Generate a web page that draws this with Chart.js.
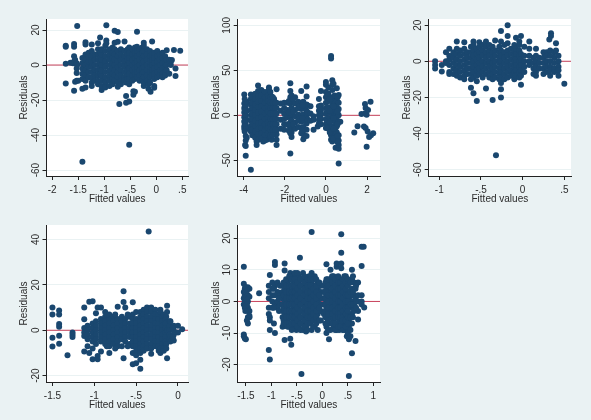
<!DOCTYPE html>
<html><head><meta charset="utf-8">
<script src="https://cdn.jsdelivr.net/npm/chart.js@4"></script>
<style>html,body{margin:0;padding:0;background:#eaf2f3;width:591px;height:420px;overflow:hidden}canvas{position:absolute;filter:blur(.35px)}</style>
</head><body>
<script>
// Each row: fitted value, then the residuals read at that fitted value
const cols1=[[-1.74,10.5,11,.8,-10.5],[-1.65,1.3],[-1.6,1],[-1.58,12,10.5,5,2,-14.7],[-1.56,-9.5,3],[-1.53,-4.5,-2,-9,1],[-1.52,22.3,0],[-1.5,-9],[-1.42,-55.3,-8,-5,-2,1,4,-13.5],[-1.36,13,11.7,6,3,0,-3,-6,-9,-12.8],[-1.3,7,-7,-4,-1,2,5],[-1.24,11.8,8,5,2,-1,-4,-7,-10,-12],[-1.18,6,3,0,-3,-6,-9],[-1.12,12.5,9,6,3,0,-3,-6,-9,-11],[-1.08,15.8,7,4,1,-2,-5],[-1.05,-14.3,-12,-9,-6,-3,0,3,6,9],[-.98,11,8,5,2,-1,-4,-7,-10,-12.8],[-.96,22.7,14,12.5],[-.9,9,6,3,0,-3,-6,-9,-12],[-.84,10,7,4,1,-2,-5,-8,-11],[-.8,19.6,12.8,9,6,3,0,-3,-6,-9],[-.74,18.9,13.3,8,5,2,-1,-4,-7,-10,-12.4],[-.71,-22.3],[-.68,9,6,3,0,-3,-6,-9,-11],[-.61,13.5,8,5,2,-1,-4,-7,-9],[-.58,-21.5,-17.7,-10],[-.55,9,6,3,0,-3,-6,-8],[-.52,-45.5,-20.8,10,7,4,1,-2,-5,-8,-11],[-.46,9,6,3,0,-3,-6,-9],[-.44,-17,-15],[-.41,-15.2,10,7,4,1,-2,-5,-8],[-.37,19,10.5,8,5,2,-1,-4,-7],[-.32,9,6,3,0,-3,-6,-9],[-.27,10,7,4,1,-2,-5,-8],[-.24,12.8,11,-12,8,5,2,-1,-4,-7,-10],[-.18,9,6,3,0,-3,-6,-9],[-.15,-13.5,-11],[-.12,8,5,2,-1,-4,-7,-10],[-.11,-15.3],[-.08,13.5,6,3,0,-3,-6],[-.04,-12,-13,7,4,1,-2,-5,-8],[.02,8,5,2,-1,-4,-7],[.07,6,3,0,-3,-6],[.12,7,4,1,-2,-5,-7],[.17,5,2,-1,-4,-6],[.2,8.5,3,0,-3],[.25,3,-5],[.28,0,2],[.3,2.9],[.34,8.6],[.37,-2,-6.3],[.46,8.2]];
const cols2=[[-3.97,23,13,8,3,-2,-7,-12,-15],[-3.93,-33],[-3.9,-45,-34,-28,-23,10,0,-10],[-3.85,15,5,-5,-15,-25],[-3.65,23,18,12,6,0,-6,-12,-18,-60.5],[-3.5,-22,15,9,3,-3,-9,-15],[-3.37,-33,-29,20,14,8,2,-4,-10,-16,-22],[-3.3,33,27],[-3.22,22,16,10,4,-2,-8,-14,-20,-26],[-3.05,-29,25,19,13,7,1,-5,-11,-17,-23],[-2.88,22,16,10,4,-2,-8,-14,-20,-27],[-2.77,31,29,24,18,12,6,0,-6,-12,-18,-24],[-2.64,-27,21,15,9,3,-3,-9,-15,-21],[-2.52,18,12,6,0,-6,-12,-18],[-2.4,-33,-27,-21,29,14,8,2,-4,-10,-16],[-2.2,13,5,-5,-15],[-2.03,-16,14,8,2,-4,-10],[-1.88,14,6,-2,-10],[-1.73,-42.5,35.5,27,20,13,6,-1,-8,-15,-20],[-1.67,-24,-19,22,15,8,1,-6,-13],[-1.5,20,13,6,-1,-8,-15],[-1.35,15,8,1,-6,-13],[-1.2,27,14,7,0,-7,-14,-20],[-1.1,-26.5,-21,15,8,1,-6,-13],[-.94,21,32,12,5,-2,-9,-16,-23],[-.89,11,3,-5],[-.75,10,2,-6],[-.6,-16,-5,-1],[-.4,-12.5],[-.34,18,10,5,0,-5,-9],[-.24,27,11,6,1,-4,-10],[0,37,34,26,20,14,8,2,-4,-10,-14],[.12,31,24,16,9,3,-3,-9,-15],[.25,66,63,-16,-22,-27],[.31,39,34,28,20,13,6,0,-6,-12,-18,-24,-29],[.42,22,15,8,1,-6,-13,-20,-27],[.47,-36,14,7,0,-7,-14,-20],[.53,30,16,9,2,-5,-12,-19,-26],[.62,22.5,14,7,0,-7,-53.5,-37,-33,-28,-22],[.7,-7],[1.38,-19],[1.54,-12],[1.73,1.5],[1.85,-12.5],[1.9,12.5,2],[1.93,8,-14],[1.98,.5,-35],[2.03,-18],[2.05,6],[2.1,-24],[2.17,15],[2.19,-22],[2.3,-20]];
const more2=[[-3.95,18,-6,6,-18],[-3.58,20,14,8,2,-4,-10,-16,-22],[-3.44,24,18,12,6,0,-6,-12,-18,-25],[-3.3,21,15,9,3,-3,-9,-15,-21,-27],[-3.14,28,22,16,10,4,-2,-8,-14,-20,-26],[-2.97,26,20,14,8,2,-4,-10,-16,-22,-28],[-2.82,22,16,10,4,-2,-8,-14,-20],[-2.7,26,20,14,8,2,-4,-10,-16,-22],[-2.58,20,14,8,2,-4,-10,-16,-22],[-2.46,14,8,2,-4,-10,-16],[-1.8,16,3,-11,-17],[-1.6,18,4,-10],[-1.28,10,-4],[-1.15,11,-3,-17],[-.28,7,-3],[.06,22,5,-7],[.19,18,5,-7,-19],[.37,35,10,-3,-15,-26],[.57,20,4,-10,-23,-30]];
const cols3=[[-1.05,0,-2,-4],[-.97,-5.7,-2],[-.92,5,0,-1],[-.88,7,3,1,-2,-6,-7],[-.83,2,5,-1,-4,-7],[-.79,11,7,4,1,-2,-5,-8],[-.75,6,3,0,-3,-6,-9],[-.7,10.5,7,4,1,-2,-5,-8,-10],[-.66,5,2,-1,-4,-7],[-.62,8,5,2,-1,-4,-7,-14.6,-10],[-.59,11,9,6,3,0,-3,-6,-9,-17.7],[-.55,7,4,1,-2,-5,-8,-22,-11],[-.52,10.5,8,5,2,-1,-4,-7],[-.48,9,6,3,0,-3,-6,-9],[-.44,11,8,5,2,-1,-4,-7,-15],[-.4,9,6,3,0,-3,-6,-9],[-.36,8,5,2,-1,-4,-7,-10,-21.5],[-.33,11.5,6,3,0,-3,-6,-9],[-.32,-52],[-.28,8,5,2,-1,-4,-7,-10],[-.26,16.8,11,6,3,0,-3,-6,-9,-12,-15.5,-20],[-.22,9,5,2,-1,-4,-7,-10],[-.18,20,14,10,6,3,0,-3,-6,-9],[-.14,7,4,1,-2,-5,-8],[-.1,9,6,3,0,-3,-6,-10],[-.08,13,7,4,1,-2,-5,-8],[-.04,11,9,6,3,0,-3,-6,-9],[-.02,14,-13,4,1,-2,-5,-8],[.02,8,3,0,-3,-6],[.08,11,7,3,0,-2],[.13,2,-1,-4,-7],[.16,7,3,0,-3,-6,-8],[.2,2,-1,-4],[.25,5,2,-1,-4,-7],[.29,5,3,0,-3,-6],[.33,6,3,0,-3,-8,-5],[.34,15.5,14],[.32,12],[.38,5,2,-1,-4,-6],[.4,10,6],[.43,3,0,-3,-5,-8],[.5,-12.5]];
const cols4=[[-1.5,10,7,-3.3,-7.2],[-1.42,8.7,7,2.8,1.6,-2.4,-5.9],[-1.32,-11],[-1.26,-1,-2,-3],[-1.12,10,4.9,1,-1,-2.5,-9.4],[-1.08,2,0,-2,-4,-7],[-1.06,12.6,-10],[-1.02,12.8,3,1,-1,-3,-5,-8,-12.8],[-.98,7.5,4,2,0,-2,-4,-6],[-.96,10,-11.3,-12.8],[-.92,10,5,3,1,-1,-3,-5,-9.4],[-.87,8,6,4,2,0,-2,-4,-6],[-.82,7,5,3,1,-1,-3,-5,-7,-10],[-.77,6,4,2,0,-2,-4,-6],[-.72,10.4,5,3,1,-1,-3,-5,-7],[-.67,6,4,2,0,-2,-4,-7],[-.65,17.2,12.5,-12.3],[-.63,10,5,3,1,-1,-3,-5],[-.58,6,3,1,-1,-3,-6],[-.54,12.4,7,5,3,1,-1,-3,-5,-7,-10,-15],[-.5,8,5,3,1,-1,-3,-5,-7,-9,-11,-14.5],[-.45,8,6,4,2,0,-2,-4,-6,-8,-10,-13,-17],[-.41,9,7,5,3,1,-1,-3,-5,-7,-9],[-.37,10,8,6,4,2,0,-2,-4,-6,-8],[-.35,43.5],[-.32,10,8,6,4,2,0,-2,-4,-6,-8,-10.4],[-.27,9,7,5,3,1,-1,-3,-5,-7],[-.23,7,5,3,1,-1,-3,-5,-7,-9],[-.19,6,4,2,0,-2,-4,-6],[-.15,5,3,1,-1,-3,-5,-7],[-.13,8,10.8,-12.3,0],[-.1,4,2,0,-2,-4],[-.05,2,0,-2,-4.5],[0,2,-1],[.05,.5]];
const more4=[[-.21,9,8,-8,-10],[-.17,7,-8,-9],[-.14,6,-6,-8],[-.09,4,-3,-5],[-.06,1,-3],[-.85,7,-7],[-.75,7,-8],[-.6,7,-7]];
const cols5=[[-1.54,11,5.6,3,1,-1,-11,-10.5],[-1.52,-11.7,4,2,0,-2],[-1.5,3,1,-12],[-1.46,4.5,2,0,-2,-3,-7,-5],[-1.43,4,1.5,-3,-5,-4.5],[-1.24,2.6],[-1.05,-15.4,5,3,1,-2,-4],[-1.03,8.4,-18.4,-9,-5,-6],[-.98,6,4,2,0,-2],[-.93,12.5,11.5,5,2,-1,-10],[-.88,6,3,0,-2],[-.83,5,2,-1],[-.78,5,3,1,-1,-3,-5,-8],[-.74,12,9.8,4,2,0,-2,-4,-6,-7.8,-12.2],[-.68,6,4,2,0,-2,-4,-6,-8],[-.63,9,7,5,3,1,-1,-3,-5,-7,-11.8],[-.61,-13.7],[-.57,8,6,4,2,0,-2,-4,-6,-8],[-.51,8.5,7,5,3,1,-1,-3,-5,-7,-9],[-.46,8,6,4,2,0,-2,-4,-6,-8],[-.44,13.8],[-.41,-23],[-.38,9,7,5,3,1,-1,-3,-5,-7,-9],[-.32,6,4,2,0,-2,-4,-6,-8,-9.5],[-.26,8,5,3,1,-1,-3,-5,-7],[-.21,22,9,6,4,2,0,-2,-4,-6,-9],[-.15,8,5,3,1,-1,-3,-5,-8],[-.09,6,4,2,0,-2,-4,-6,-9],[-.03,5,3,1,-1,-3,-6],[.03,5,3,1,-1,-4],[.08,11.8,7,4,2,0,-2,-4,-8,-10],[.13,6,3,1,-1,-3,-5,-7,-12],[.16,10,7,5,3,1,-1,-3,-5,-9],[.22,8,6,4,2,0,-2,-4,-6,-8],[.28,7,5,3,1,-1,-3,-5,-7,-9,11,12],[.33,7,5,3,1,-1,-3,-6,-9],[.37,21.3,15.4,12,10.5,6,4,2,0,-2,-4,-7],[.43,8,5,3,1,-1,-3,-5,-8,-9],[.48,7,5,3,1,-1,-3,-5,-7,-9,-11],[.52,-23.6,6,3,1,-1,-4,-6,-8,-12],[.58,10,7,4,2,0,-2,-4,-7,-16.4],[.62,6,2,-1,-3],[.65,-12.5,4,1],[.7,2,0,-3,-5.7,6],[.77,17.3,11.2,2,0,-1],[.81,17.3],[.82,-1.9]];
const more5=[[-1.51,4.6,-.5,-1.5,-3],[-1.48,3.5,.5,-1,-6],[-.95,4,-2,-7],[-.85,1,-3],[-.76,6,2,-2,-6,-7],[-.71,7,5,3,1,-1,-3,-5,-7],[-.65,8,5,3,1,-1,-3,-5,-7,-8],[-.6,7,5,3,1,-1,-3,-5,-7,-9],[-.54,9,7,5,3,1,-1,-3,-5,-7],[-.49,9,6,4,2,0,-2,-4,-6,-8],[-.43,7,5,3,1,-1,-3,-5,-7,-9],[-.35,8,6,4,2,0,-2,-4,-6,-8],[-.29,7,5,3,1,-1,-3,-5,-7,-9],[-.23,8,7,5,3,1,-1,-3,-5,-7],[-.18,7,4,2,0,-2,-4,-6,-8],[-.12,7,5,3,1,-1,-3,-5,-7],[-.06,6,2,-2,-6],[.06,6,3,1,-1,-3,-5,-7],[.11,7,5,2,0,-2,-4,-6,-9],[.19,8,6,4,2,0,-2,-4,-7],[.25,7,5,3,1,-1,-3,-5,-7,-9],[.31,8,6,4,2,0,-2,-4,-5,-8],[.35,6,4,2,0,-2,-4,-5,-8],[.4,7,5,3,1,-1,-3,-5,-6,-9],[.46,8,6,4,2,0,-2,-4,-6,-8],[.5,7,5,2,0,-2,-3,-5,-7,-10],[.55,6,3,-1,-5,-9,-11],[.6,8,3,-1,-5],[.66,5,0,-2]];

const xTicks1=[-2,-1.5,-1,-.5,0,.5], xLabels1=['-2','-1.5','-1','-.5','0','.5'];
const yTicks1=[-60,-40,-20,0,20], yLabels1=['-60','-40','-20','0','20'];
const xTicks2=[-4,-2,0,2], xLabels2=['-4','-2','0','2'];
const yTicks2=[-50,0,50,100], yLabels2=['-50','0','50','100'];
const xTicks3=[-1,-.5,0,.5], xLabels3=['-1','-.5','0','.5'];
const yTicks3=[-60,-40,-20,0,20], yLabels3=['-60','-40','-20','0','20'];
const xTicks4=[-1.5,-1,-.5,0], xLabels4=['-1.5','-1','-.5','0'];
const yTicks4=[-20,0,20,40], yLabels4=['-20','0','20','40'];
const xTicks5=[-1.5,-1,-.5,0,.5,1], xLabels5=['-1.5','-1','-.5','0','.5','1'];
const yTicks5=[-20,-10,0,10,20], yLabels5=['-20','-10','0','10','20'];
const xTitle='Fitted values', yTitle='Residuals';

const FONT='"Liberation Sans",Arial,sans-serif', TXT='#2a2a2a', DOT='#1a476f', REF='#c8405a', GRID='#eaf2f3';

function panel(o){
  const c=document.createElement('canvas');
  c.style.left=o.cx+'px';c.style.top=o.cy+'px';c.style.width=o.cw+'px';c.style.height=o.ch+'px';
  c.width=o.cw;c.height=o.ch;document.body.appendChild(c);
  const pts=o.cols.flatMap(r=>r.slice(1).map(y=>({x:r[0],y})));
  const white={id:'white',beforeDraw(ch){const a=ch.chartArea,g=ch.ctx;g.save();g.fillStyle='#fff';g.fillRect(a.left,a.top,a.right-a.left,a.bottom-a.top);g.restore();}};
  const rotY={id:'rotY',afterDraw(ch){
    const s=ch.scales.y,g=ch.ctx;g.save();g.font='10px '+FONT;g.fillStyle=TXT;g.textAlign='center';g.textBaseline='alphabetic';
    o.yt.forEach((v,i)=>{g.save();g.translate(s.right-7.5,s.getPixelForValue(v));g.rotate(-Math.PI/2);g.fillText(o.yl[i],0,0);g.restore();});
    g.restore();}};
  new Chart(c,{type:'scatter',plugins:[white,rotY],
    data:{datasets:[
      {type:'scatter',data:pts,backgroundColor:DOT,borderColor:DOT,pointRadius:3,pointBorderWidth:0,order:1},
      {type:'line',data:[{x:o.xr[0],y:0},{x:o.xr[1],y:0}],borderColor:REF,borderWidth:1,pointRadius:0,order:2}
    ]},
    options:{responsive:false,animation:false,devicePixelRatio:1,events:[],
      layout:{padding:{left:o.padL,right:o.cw-o.pr,top:o.pt,bottom:0}},
      plugins:{legend:{display:false},tooltip:{enabled:false}},
      scales:{
        x:{type:'linear',min:o.xr[0],max:o.xr[1],
          afterBuildTicks(s){s.ticks=o.xt.map(v=>({value:v}));},
          afterFit(s){s.height=o.ch-o.pb;},
          grid:{drawOnChartArea:false,tickLength:4,tickColor:'#222'},
          border:{color:'#222',width:1},
          ticks:{autoSkip:false,maxRotation:0,color:TXT,font:{family:FONT,size:10},padding:4,callback:(v)=>o.xl[o.xt.indexOf(v)]},
          title:{display:true,text:xTitle,color:TXT,font:{family:FONT,size:10},padding:{top:0,bottom:o.xtb}}},
        y:{type:'linear',min:o.yr[0],max:o.yr[1],
          afterBuildTicks(s){s.ticks=o.yt.map(v=>({value:v}));},
          afterFit(s){s.width=o.pl-o.padL;},
          grid:{color:GRID,lineWidth:1,tickLength:4,tickColor:'#222'},
          border:{color:'#222',width:1},
          ticks:{display:false},
          title:{display:true,text:yTitle,color:TXT,font:{family:FONT,size:10},padding:{top:0,bottom:0}}}
      }}});
}
panel({cx:0,cy:0,cw:197,ch:210,padL:18,pl:46.5,pr:188,pt:19,pb:176,xr:[-2.11,.61],yr:[-63.4,26.3],cols:cols1,xt:xTicks1,xl:xLabels1,yt:yTicks1,yl:yLabels1,xtb:5});
panel({cx:197,cy:0,cw:197,ch:210,padL:13,pl:40.7,pr:183,pt:19,pb:176,xr:[-4.29,2.63],yr:[-67.4,107],cols:cols2.concat(more2),xt:xTicks2,xl:xLabels2,yt:yTicks2,yl:yLabels2,xtb:5});
panel({cx:394,cy:0,cw:197,ch:210,padL:7,pl:34.7,pr:177,pt:19,pb:176,xr:[-1.127,.58],yr:[-63.5,23.4],cols:cols3,xt:xTicks3,xl:xLabels3,yt:yTicks3,yl:yLabels3,xtb:5});
panel({cx:0,cy:210,cw:197,ch:210,padL:18,pl:46.5,pr:188,pt:15,pb:172,xr:[-1.571,.12],yr:[-22.8,46.4],cols:cols4.concat(more4),xt:xTicks4,xl:xLabels4,yt:yTicks4,yl:yLabels4,xtb:8.5});
panel({cx:197,cy:210,cw:197,ch:210,padL:13,pl:40.7,pr:183,pt:15,pb:172,xr:[-1.66,1.13],yr:[-25.5,24.2],cols:cols5.concat(more5),xt:xTicks5,xl:xLabels5,yt:yTicks5,yl:yLabels5,xtb:8.5});
</script>
</body></html>
